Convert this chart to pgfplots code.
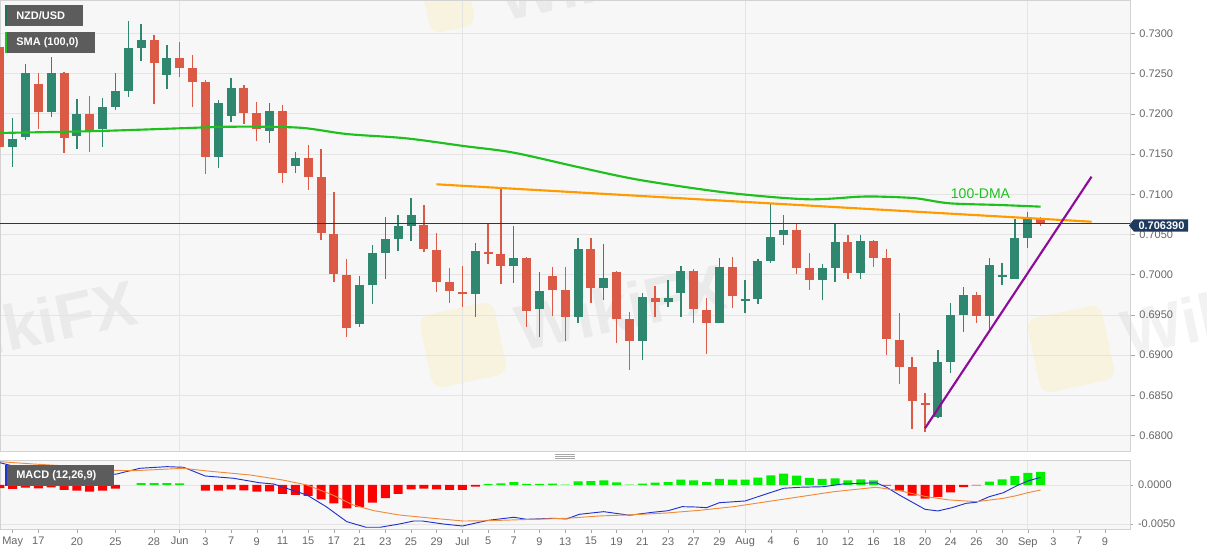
\documentclass[border=0pt]{standalone}
\usepackage{fontspec}
\setmainfont{Liberation Sans}
\usepackage{pgfplots}
\pgfplotsset{compat=1.18}
\usepackage{pgfplotstable}

\definecolor{up}{HTML}{2F8770}
\definecolor{down}{HTML}{DB5A45}
\definecolor{sma}{HTML}{1EC01E}
\definecolor{trend}{HTML}{FF9A00}
\definecolor{support}{HTML}{8E0C9A}
\definecolor{pricebg}{HTML}{1F3A5F}
\definecolor{labelgray}{HTML}{666666}
\definecolor{gridgray}{HTML}{E4E4E4}
\definecolor{plotbg}{HTML}{F7F7F7}
\definecolor{histred}{HTML}{FF0000}
\definecolor{histgreen}{HTML}{00F000}
\definecolor{macdblue}{HTML}{2233CC}
\definecolor{signal}{HTML}{F08A3C}
\definecolor{boxgray}{HTML}{5C5C5C}

\newcommand{\tickfont}{\fontsize{8.25}{9}\selectfont}

% daily candles, i = trading day (0 = 12 May 2021)
\pgfplotstableread{
i o h l c
0 0.72835 0.72918 0.71510 0.71592
1 0.71592 0.71945 0.71343 0.71684
2 0.71716 0.72620 0.71675 0.72511
3 0.72371 0.72504 0.71808 0.72023
4 0.72023 0.72710 0.71964 0.72504
5 0.72504 0.72520 0.71510 0.71696
6 0.71728 0.72181 0.71559 0.71998
7 0.71998 0.72225 0.71529 0.71799
8 0.71812 0.72193 0.71584 0.72081
9 0.72081 0.72504 0.72048 0.72280
10 0.72280 0.73158 0.72206 0.72815
11 0.72815 0.73113 0.72657 0.72918
12 0.72918 0.72980 0.72122 0.72628
13 0.72487 0.72856 0.72305 0.72698
14 0.72698 0.72889 0.72454 0.72574
15 0.72570 0.72731 0.72089 0.72396
16 0.72396 0.72421 0.71252 0.71460
17 0.71460 0.72172 0.71323 0.72131
18 0.71977 0.72442 0.71902 0.72317
19 0.72317 0.72355 0.71874 0.72014
20 0.72014 0.72143 0.71659 0.71808
21 0.71787 0.72131 0.71634 0.72035
22 0.72035 0.72106 0.71144 0.71268
23 0.71355 0.71529 0.71261 0.71447
24 0.71447 0.71609 0.71053 0.71211
25 0.71211 0.71559 0.70432 0.70515
26 0.70506 0.71032 0.69914 0.70009
27 0.70001 0.70192 0.69222 0.69342
28 0.69384 0.69988 0.69347 0.69869
29 0.69872 0.70366 0.69633 0.70267
30 0.70274 0.70721 0.69943 0.70441
31 0.70444 0.70739 0.70291 0.70602
32 0.70610 0.70958 0.70423 0.70739
33 0.70622 0.70863 0.70286 0.70316
34 0.70308 0.70515 0.69789 0.69914
35 0.69910 0.70080 0.69645 0.69794
36 0.69789 0.70109 0.69603 0.69757
37 0.69757 0.70391 0.69471 0.70291
38 0.70283 0.70647 0.70130 0.70258
39 0.70254 0.71070 0.69881 0.70112
40 0.70112 0.70610 0.69894 0.70204
41 0.70204 0.70224 0.69354 0.69553
42 0.69578 0.70038 0.69230 0.69802
43 0.69984 0.70100 0.69487 0.69807
44 0.69807 0.70100 0.69180 0.69475
45 0.69478 0.70453 0.69396 0.70320
46 0.70320 0.70453 0.69645 0.69839
47 0.69839 0.70378 0.69686 0.69963
48 0.70030 0.70050 0.69148 0.69450
49 0.69446 0.69541 0.68816 0.69176
50 0.69176 0.69777 0.68940 0.69720
51 0.69715 0.69864 0.69471 0.69657
52 0.69657 0.69935 0.69595 0.69707
53 0.69777 0.70109 0.69471 0.70050
54 0.70050 0.70068 0.69396 0.69570
55 0.69562 0.69707 0.69011 0.69404
56 0.69404 0.70204 0.69396 0.70100
57 0.70100 0.70217 0.69583 0.69736
58 0.69674 0.69935 0.69521 0.69695
59 0.69695 0.70199 0.69633 0.70175
60 0.70175 0.70879 0.70142 0.70473
61 0.70498 0.70743 0.70370 0.70556
62 0.70556 0.70627 0.70006 0.70088
63 0.70088 0.70267 0.69810 0.69935
64 0.69935 0.70130 0.69686 0.70088
65 0.70088 0.70627 0.69906 0.70411
66 0.70411 0.70494 0.69947 0.70018
67 0.70018 0.70490 0.69947 0.70419
68 0.70423 0.70432 0.70100 0.70212
69 0.70204 0.70316 0.69002 0.69201
70 0.69189 0.69521 0.68642 0.68857
71 0.68850 0.68974 0.68079 0.68434
72 0.68409 0.68526 0.68049 0.68390
73 0.68228 0.69065 0.68216 0.68919
74 0.68919 0.69652 0.68775 0.69503
75 0.69503 0.69844 0.69292 0.69748
76 0.69748 0.69789 0.69396 0.69487
77 0.69487 0.70204 0.69313 0.70117
78 0.69976 0.70142 0.69869 0.69997
79 0.69943 0.70689 0.69943 0.70453
80 0.70453 0.70784 0.70329 0.70689
81 0.70689 0.70721 0.70606 0.70639
}\ohlc

\pgfplotstableread{
i v
0 -0.00040
1 -0.00051
2 -0.00034
3 -0.00043
4 -0.00030
5 -0.00064
6 -0.00073
7 -0.00085
8 -0.00073
9 -0.00047
11 0.00025
12 0.00025
13 0.00025
14 0.00020
16 -0.00073
17 -0.00073
18 -0.00055
19 -0.00068
20 -0.00085
21 -0.00081
22 -0.00115
23 -0.00128
24 -0.00141
25 -0.00184
26 -0.00235
27 -0.00299
28 -0.00282
29 -0.00226
30 -0.00170
31 -0.00115
32 -0.00055
33 -0.00047
34 -0.00055
35 -0.00064
36 -0.00064
37 -0.00021
38 0.00010
39 0.00021
40 0.00038
41 0.00013
42 0.00013
43 0.00017
44 0.00004
45 0.00047
46 0.00051
47 0.00060
48 0.00034
49 0.00004
50 0.00017
51 0.00030
52 0.00038
53 0.00068
54 0.00060
55 0.00038
56 0.00077
57 0.00068
58 0.00068
59 0.00094
60 0.00124
61 0.00145
62 0.00120
63 0.00090
64 0.00077
65 0.00085
66 0.00060
67 0.00073
68 0.00060
69 -0.00009
70 -0.00073
71 -0.00137
72 -0.00175
73 -0.00154
74 -0.00094
75 -0.00026
76 -0.00004
77 0.00043
78 0.00073
79 0.00115
80 0.00154
81 0.00167
}\hist

\pgfplotsset{
  chartbase/.style={
    scale only axis, width=847.5pt,
    xmin=0.0156, xmax=87.954,
    axis line style={gray!35},
    tick style={gray!70, thin},
    tick align=outside,
    major tick length=3.5pt,
    ytick pos=right, yticklabel pos=right,
    scaled y ticks=false,
    ymajorgrids, grid style={gridgray, line width=0.6pt},
    ticklabel style={font=\tickfont, text=labelgray},
    /pgf/number format/.cd, fixed, fixed zerofill, precision=4, assume math mode=true,
  },
  % candles: invisible plot path, visible error bars (wick thin, body wide)
  wick/.style={draw=none, mark=none,
    error bars/y dir=both, error bars/y explicit, error bars/error mark=none,
    error bars/error bar style={draw=#1, line width=1pt, line cap=butt}},
  body/.style={draw=none, mark=none,
    error bars/y dir=both, error bars/y explicit, error bars/error mark=none,
    error bars/error bar style={draw=#1, line width=6.75pt, line cap=butt}},
}

\begin{document}
\begin{tikzpicture}
\useasboundingbox (0pt,0pt) rectangle (905.25pt,416.25pt);

% ---- backgrounds and watermarks, pixel coordinates from top left ----
\begin{scope}[shift={(0pt,416.25pt)}, x=0.75pt, y=-0.75pt]
  \fill[plotbg] (0,0) rectangle (1130,451.5);
  \fill[plotbg] (0,460.7) rectangle (1130,529.3);
  \begin{scope}[opacity=0.10]
    \node[rotate=12, anchor=east, text=gray, font=\fontsize{48}{48}\selectfont\bfseries] at (140,300) {WikiFX};
    \fill[rotate around={12:(463,345)}, yellow!70!orange, rounded corners=8pt] (425,308) rectangle (501,382);
    \node[rotate=12, anchor=west, text=gray, font=\fontsize{48}{48}\selectfont\bfseries] at (512,330) {WikiFX};
    \fill[rotate around={12:(1071,349)}, yellow!70!orange, rounded corners=8pt] (1033,311) rectangle (1109,387);
    \node[rotate=12, anchor=west, text=gray, font=\fontsize{48}{48}\selectfont\bfseries] at (1118,335) {WikiFX};
    \fill[rotate around={12:(448,2)}, yellow!70!orange, rounded corners=8pt] (425,-30) rectangle (471,30);
    \node[rotate=12, anchor=west, text=gray, font=\fontsize{48}{48}\selectfont\bfseries] at (495,0) {WikiFX};
  \end{scope}
\end{scope}

% ---- price panel ----
\begin{axis}[chartbase, at={(0pt,77.625pt)}, anchor=south west, height=338.625pt,
  ymin=0.67803, ymax=0.73415,
  ytick={0.68,0.685,0.69,0.695,0.70,0.705,0.71,0.715,0.72,0.725,0.73},
  xtick={14,36,58,80}, xticklabels={}, xmajorgrids,
  x tick style={draw=none},
]
\addplot[wick=up, restrict expr to domain={\thisrow{c}-\thisrow{o}}{0:1}]
  table[x=i, y expr={(\thisrow{h}+\thisrow{l})/2}, y error expr={(\thisrow{h}-\thisrow{l})/2}] {\ohlc};
\addplot[body=up, restrict expr to domain={\thisrow{c}-\thisrow{o}}{0:1}]
  table[x=i, y expr={(\thisrow{o}+\thisrow{c})/2}, y error expr={max(abs(\thisrow{c}-\thisrow{o})/2,0.00007)}] {\ohlc};
\addplot[wick=down, restrict expr to domain={\thisrow{c}-\thisrow{o}}{-1:0}]
  table[x=i, y expr={(\thisrow{h}+\thisrow{l})/2}, y error expr={(\thisrow{h}-\thisrow{l})/2}] {\ohlc};
\addplot[body=down, restrict expr to domain={\thisrow{c}-\thisrow{o}}{-1:0}]
  table[x=i, y expr={(\thisrow{o}+\thisrow{c})/2}, y error expr={max(abs(\thisrow{c}-\thisrow{o})/2,0.00007)}] {\ohlc};

% 100-day SMA
\addplot[sma, line width=1.6pt, smooth] coordinates {
  (0,0.71762) (7.8,0.71787) (14,0.71820) (18.1,0.71840) (23.3,0.71828)
  (27,0.71749) (31.6,0.71696) (36.1,0.71600) (40,0.71517) (45.1,0.71335)
  (49.8,0.71178) (56.6,0.71020) (62.8,0.70938) (66.9,0.70970) (68.7,0.70970)
  (71.3,0.70950) (73.9,0.70888) (77.8,0.70867) (81,0.70846)};
% resistance and support lines
\addplot[trend, line width=1.6pt] coordinates {(33.98,0.71124) (84.96,0.70659)};
\addplot[support, line width=1.6pt] coordinates {(72.0,0.68091) (84.96,0.71219)};
% last price
\addplot[pricebg, line width=0.8pt] coordinates {(0,0.70639) (88,0.70639)};

\node[text=sma, font=\fontsize{10.5}{12}\selectfont] at (axis cs:76.32,0.71012) {100-DMA};
\end{axis}

% ---- MACD panel ----
\begin{axis}[chartbase, at={(0pt,19.275pt)}, anchor=south west, height=51.45pt,
  ymin=-0.00568, ymax=0.003115, ytick={-0.005,0},
  xtick pos=bottom, major tick length=2.5pt,
  xtick={1,3,6,9,12,14,16,18,20,22,24,26,28,30,32,34,36,38,40,42,44,46,48,50,52,54,56,58,60,62,64,66,68,70,72,74,76,78,80,82,84,86},
  xticklabels={May,17,20,25,28,Jun,3,7,9,11,15,17,21,23,25,29,Jul,5,7,9,13,15,19,21,23,27,29,Aug,4,6,10,12,16,18,20,24,26,30,Sep,3,7,9},
  extra x ticks={14,36,58,80}, extra x tick labels={},
  extra x tick style={grid=major, major tick length=0pt},
]
\addplot[ybar, bar width=6.75pt, bar shift=0pt, fill=histred, draw=none,
  restrict y to domain=-1:0] table[x=i, y=v] {\hist};
\addplot[ybar, bar width=6.75pt, bar shift=0pt, fill=histgreen, draw=none,
  restrict y to domain=0:1] table[x=i, y=v] {\hist};
% MACD line
\addplot[macdblue, line width=0.7pt] coordinates {
  (0,0.00286) (1.0,0.00244) (2.6,0.00235) (3.9,0.00214) (5.2,0.00183)
  (6.7,0.00141) (8.3,0.00128) (9.1,0.00141) (10.9,0.00214) (13.0,0.00235)
  (14.3,0.00227) (16.0,0.00115) (18.2,0.00086) (20.2,0.00029) (21.3,0.00013)
  (22.3,-0.00042) (23.9,-0.00128) (25.4,-0.00278) (27.0,-0.00470) (28.5,-0.00542)
  (29.6,-0.00542) (31.1,-0.00500) (32.2,-0.00462) (32.9,-0.00462) (34.5,-0.00500)
  (36.0,-0.00526) (38.0,-0.00453) (40.0,-0.00414) (41.0,-0.00440) (43.1,-0.00427)
  (44.1,-0.00436) (45.1,-0.00376) (47.0,-0.00342) (49.0,-0.00388) (50.8,-0.00350)
  (52.0,-0.00330) (53.1,-0.00278) (54.1,-0.00282) (55.0,-0.00291) (56.0,-0.00227)
  (58.0,-0.00205) (59.0,-0.00150) (61.0,-0.00042) (62.3,-0.00029) (64.1,-0.00022)
  (65.6,0.00013) (68.2,0.00029) (69.0,-0.00029) (70.0,-0.00128) (72.0,-0.00312)
  (73.0,-0.00333) (74.1,-0.00291) (75.2,-0.00235) (76.0,-0.00222) (77.0,-0.00150)
  (78.1,-0.00099) (79.1,-0.00013) (80.0,0.00051) (81.0,0.00099)};
% signal line
\addplot[signal, line width=0.7pt] coordinates {
  (0,0.00299) (2.6,0.00269) (5.2,0.00244) (7.8,0.00192) (10.4,0.00183)
  (14.3,0.00214) (16.1,0.00180) (19.5,0.00128) (22.0,0.00064) (23.9,0.00000)
  (25.9,-0.00128) (27.5,-0.00256) (29.1,-0.00329) (31.1,-0.00385) (33.7,-0.00427)
  (36.1,-0.00462) (38.0,-0.00458) (41.5,-0.00440) (44.1,-0.00427) (46.7,-0.00397)
  (49.3,-0.00381) (51.9,-0.00359) (54.5,-0.00324) (57.1,-0.00278) (59.7,-0.00214)
  (62.3,-0.00150) (64.9,-0.00086) (68.2,-0.00029) (70.0,-0.00073) (72.1,-0.00150)
  (73.9,-0.00192) (76.0,-0.00214) (78.1,-0.00171) (79.1,-0.00137) (80.0,-0.00099)
  (81.0,-0.00064)};
\end{axis}

% ---- overlays in pixel coordinates (origin top left) ----
\begin{scope}[shift={(0pt,416.25pt)}, x=0.75pt, y=-0.75pt]
  % panel separator handle
  \draw[gray!70, line width=0.5pt] (555,454.5) -- (575,454.5) (555,456.5) -- (575,456.5) (555,458.5) -- (575,458.5);
  % indicator boxes
  \fill[boxgray] (5,5) rectangle (83,25.7);
  \fill[up!80!black] (5,5) rectangle (7,25.7);
  \node[anchor=west, text=white, font=\tickfont\bfseries, inner sep=0pt] at (16,15.4) {NZD/USD};
  \fill[boxgray] (5,32.3) rectangle (95,52.7);
  \fill[sma] (5,32.3) rectangle (7,52.7);
  \node[anchor=west, text=white, font=\tickfont\bfseries, inner sep=0pt] at (16,42.5) {SMA (100,0)};
  \fill[boxgray] (5,465) rectangle (114,486);
  \fill[macdblue] (5,465) rectangle (7,486);
  \node[anchor=west, text=white, font=\tickfont\bfseries, inner sep=0pt] at (16,475.5) {MACD (12,26,9)};
  % last price label
  \fill[pricebg] (1129,225.5) -- (1134,219.3) -- (1188,219.3) -- (1188,231.7) -- (1134,231.7) -- cycle;
  \node[text=white, font=\tickfont\bfseries, inner sep=0pt] at (1161.5,225.7) {0.706390};
\end{scope}
\end{tikzpicture}
\end{document}
